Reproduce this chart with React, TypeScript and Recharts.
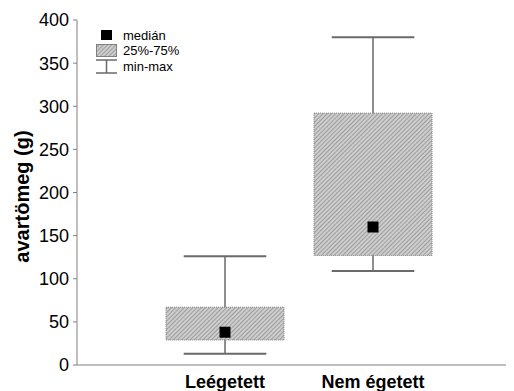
import { Bar, ComposedChart, Scatter, XAxis, YAxis } from "recharts";

const categories = ["Leégetett", "Nem égetett"];
const minValues = [13, 109];
const q1Values = [29, 127];
const medianValues = [38, 160];
const q3Values = [67, 292];
const maxValues = [126, 380];
const yTicks = [0, 50, 100, 150, 200, 250, 300, 350, 400];

const data = categories.map((name, i) => ({
  name,
  min: minValues[i],
  q1: q1Values[i],
  median: medianValues[i],
  q3: q3Values[i],
  max: maxValues[i],
  box: [q1Values[i], q3Values[i]],
}));

const FONT = "'Liberation Sans', Arial, sans-serif";
const AXIS = "#808080";
const WHISKER = "#6a6a6a";

function BoxShape(props: any) {
  const { x, y, width, height, payload } = props;
  const perUnit = height / (payload.q3 - payload.q1);
  const yOf = (v: number) => y + (payload.q3 - v) * perUnit;
  const cx = x + width / 2;
  const cap = width * 0.35;
  return (
    <g>
      <line x1={cx} x2={cx} y1={yOf(payload.max)} y2={yOf(payload.min)} stroke={WHISKER} strokeWidth={1.5} />
      <line x1={cx - cap} x2={cx + cap} y1={yOf(payload.max)} y2={yOf(payload.max)} stroke={WHISKER} strokeWidth={2} />
      <line x1={cx - cap} x2={cx + cap} y1={yOf(payload.min)} y2={yOf(payload.min)} stroke={WHISKER} strokeWidth={2} />
      <rect
        x={x}
        y={y}
        width={width}
        height={height}
        fill="url(#hatch)"
        stroke={AXIS}
        strokeWidth={1}
        strokeDasharray="1 1"
      />
    </g>
  );
}

function MedianShape(props: any) {
  const { cx, cy } = props;
  return <rect x={cx - 5.5} y={cy - 5.5} width={11} height={11} fill="#000" />;
}

function Legend() {
  return (
    <div
      style={{
        position: "absolute",
        left: 88,
        top: 20,
        fontFamily: FONT,
        fontSize: 13,
        lineHeight: "15px",
        color: "#000",
      }}
    >
      <div style={{ display: "flex", alignItems: "center", height: 15 }}>
        <svg width={22} height={15}>
          <rect x={5} y={2} width={11} height={10} fill="#000" />
        </svg>
        <span style={{ marginLeft: 5 }}>medián</span>
      </div>
      <div style={{ display: "flex", alignItems: "center", height: 15 }}>
        <svg width={22} height={15}>
          <rect x={0.5} y={1.5} width={20} height={12} fill="url(#hatch)" stroke={AXIS} />
        </svg>
        <span style={{ marginLeft: 5 }}>25%-75%</span>
      </div>
      <div style={{ display: "flex", alignItems: "center", height: 17 }}>
        <svg width={22} height={17}>
          <line x1={0} x2={21} y1={2} y2={2} stroke={WHISKER} strokeWidth={1.5} />
          <line x1={0} x2={21} y1={15} y2={15} stroke={WHISKER} strokeWidth={1.5} />
          <line x1={10.5} x2={10.5} y1={2} y2={15} stroke={WHISKER} strokeWidth={1.5} />
        </svg>
        <span style={{ marginLeft: 5 }}>min-max</span>
      </div>
    </div>
  );
}

export default function App() {
  return (
    <div style={{ position: "relative", width: 506, height: 383 }}>
      <svg width={0} height={0} style={{ position: "absolute" }}>
        <defs>
          <pattern id="hatch" width={3} height={3} patternUnits="userSpaceOnUse" patternTransform="rotate(-45)">
            <rect width={3} height={3} fill="#cdcdcd" />
            <rect width={3} height={1} fill="#9e9e9e" />
          </pattern>
        </defs>
      </svg>
      <ComposedChart width={506} height={383} data={data} margin={{ top: 12, right: 0, bottom: 0, left: 0 }}>
        <XAxis
          dataKey="name"
          type="category"
          height={26}
          padding={{ left: 74, right: 67 }}
          stroke={AXIS}
          tickLine={false}
          tickSize={0}
          tickMargin={10}
          tick={{ fill: "#000", fontSize: 18, fontWeight: "bold", fontFamily: FONT }}
        />
        <YAxis
          type="number"
          domain={[0, 400]}
          ticks={yTicks}
          width={69}
          stroke={AXIS}
          tickSize={4}
          tickMargin={4}
          tick={{ fill: "#000", fontSize: 18, fontFamily: FONT }}
          label={{
            value: "avartömeg (g)",
            angle: -90,
            position: "insideLeft",
            offset: 14,
            dy: 4,
            style: { textAnchor: "middle", fontSize: 20, fontWeight: "bold", fontFamily: FONT, fill: "#000" },
          }}
        />
        <Bar dataKey="box" barSize={118} shape={BoxShape} isAnimationActive={false} />
        <Scatter dataKey="median" shape={MedianShape} isAnimationActive={false} />
      </ComposedChart>
      <Legend />
    </div>
  );
}
